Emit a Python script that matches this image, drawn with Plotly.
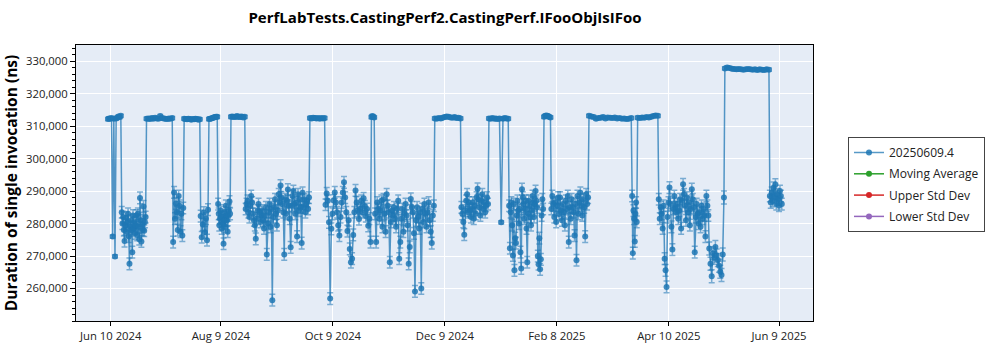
import pandas as pd
import plotly.graph_objects as go

chart_title = "PerfLabTests.CastingPerf2.CastingPerf.IFooObjIsIFoo"
y_title = "Duration of single invocation (ns)"
series_names = ["20250609.4", "Moving Average", "Upper Std Dev", "Lower Std Dev"]
series_colors = ["#1f77b4", "#2ca02c", "#d62728", "#9467bd"]

tick_dates = ["2024-06-10", "2024-08-09", "2024-10-09", "2024-12-09",
              "2025-02-08", "2025-04-10", "2025-06-09"]
tick_labels = ["Jun 10 2024", "Aug 9 2024", "Oct 9 2024", "Dec 9 2024",
               "Feb 8 2025", "Apr 10 2025", "Jun 9 2025"]
y_ticks = [260000, 270000, 280000, 290000, 300000, 310000, 320000, 330000]

# Run windows (start, end) and the durations for each window
seg_start = ["2024-06-08 12:00", "2024-06-16 00:00", "2024-06-29 12:00", "2024-07-14 00:00",
             "2024-07-20 00:00", "2024-07-29 00:00", "2024-08-02 12:00", "2024-08-07 12:00",
             "2024-08-14 12:00", "2024-08-22 12:00", "2024-09-26 12:00", "2024-10-05 00:00",
             "2024-10-30 00:00", "2024-11-01 00:00", "2024-12-03 12:00", "2024-12-18 00:00",
             "2025-01-02 00:00", "2025-01-13 00:00", "2025-02-01 00:00", "2025-02-05 00:00",
             "2025-02-25 12:00", "2025-03-21 00:00", "2025-03-24 00:00", "2025-04-04 12:00",
             "2025-05-02 00:00", "2025-05-10 12:00", "2025-06-04 00:00"]
seg_end = ["2024-06-15 12:00", "2024-06-29 00:00", "2024-07-13 12:00", "2024-07-19 12:00",
           "2024-07-28 12:00", "2024-08-02 00:00", "2024-08-07 00:00", "2024-08-14 00:00",
           "2024-08-22 00:00", "2024-09-26 00:00", "2024-10-04 12:00", "2024-10-29 12:00",
           "2024-10-31 12:00", "2024-12-03 00:00", "2024-12-17 12:00", "2025-01-01 12:00",
           "2025-01-12 12:00", "2025-01-31 12:00", "2025-02-04 12:00", "2025-02-25 00:00",
           "2025-03-20 12:00", "2025-03-23 12:00", "2025-04-04 00:00", "2025-05-01 12:00",
           "2025-05-10 00:00", "2025-06-03 12:00", "2025-06-10 12:00"]
seg_err = [500, 1800, 500, 1800, 500, 1800, 500, 1800, 500, 1800, 500, 1800, 500, 1800,
           500, 1800, 500, 1800, 500, 1800, 500, 1800, 500, 1800, 2000, 500, 1800]

seg_01 = [312200, 312400, 312300, 312500, 276000, 312300, 269900, 312400, 312600, 313000, 312800, 313200]
seg_02 = [283500, 280000, 282000, 278000, 274600, 279500, 281800, 277500, 280500, 283000, 276000, 267600,
          279000, 281000, 278000, 271200, 282500, 278500, 280200, 277000, 279500, 282500, 276500, 283000,
          279000, 275200, 287900, 281000, 274500, 279800, 278000, 285300, 277800, 280500, 282000]
seg_03 = [312300, 312400, 312200, 312500, 312300, 312600, 312400, 312300, 313100, 312500, 312400, 312300,
          312200, 312400, 312300, 312500]
seg_04 = [274300, 289600, 281500, 286200, 283500, 278000, 288500, 285500, 277500, 283000, 276300, 284800]
seg_05 = [312300, 312200, 312100, 312300, 312200, 312000, 312200, 312100, 312300, 312200, 312000, 312100]
seg_06 = [282300, 275800, 279700, 283400, 277300, 281500, 274900, 284300]
seg_07 = [312200, 312300, 312400, 312500, 312700, 312800, 312900, 312900]
seg_08 = [286000, 283000, 279500, 281500, 284000, 282000, 278500, 282000, 280000, 273800, 283500, 281000,
          279000, 285500, 282500, 281000, 277500, 282500, 284000, 286800, 283000]
seg_09 = [312900, 313000, 312800, 312900, 313100, 312800, 312900, 313000, 312700, 312900]
seg_10 = [284500, 286000, 287000, 283500, 282000, 285500, 288500, 286500, 283000, 281000,
          279500, 275300, 281500, 284000, 286000, 283500, 280500, 282500, 284000, 281000,
          278500, 282500, 285000, 270500, 280000, 283500, 286000, 279000, 284500, 256400,
          282000, 285000, 287500, 283000, 279500, 284000, 289000, 286500, 291700, 288000,
          286000, 283500, 270500, 287500, 283000, 287000, 290500, 285500, 281500, 272700,
          285500, 288500, 290000, 286000, 283000, 286500, 276000, 289000, 284000, 287500,
          285000, 274000, 289500, 285000, 287500, 283500, 286000, 287000, 284500, 288000]
seg_11 = [312500, 312400, 312600, 312500, 312400, 312500, 312300, 312500, 312400, 312500]
seg_12 = [285800, 289300, 287000, 280400, 256900, 278400, 283000, 287100, 289600, 286500, 283500, 279500,
          276300, 282000, 286500, 289600, 292700, 288000, 283500, 277700, 281000, 272200, 268100, 269200,
          276500, 283500, 290200, 286500, 284000, 281400, 284500, 287000, 283500, 287800, 285300, 282300,
          284500, 279300, 281500, 274300]
seg_13 = [312800, 313100, 312900, 312700]
seg_14 = [283000, 274300, 286500, 284500, 281500, 284000, 287000, 279000, 287500, 283000, 277500, 289000,
          285500, 283500, 268100, 280500, 284000, 282500, 285000, 281500, 279000, 284500, 287000, 269200,
          274300, 281500, 284500, 277500, 283000, 286000, 282500, 279500, 267600, 272800, 287600, 285000,
          283500, 277000, 259100, 281000, 285000, 282000, 278500, 283500, 260000, 284500, 280500, 286000,
          283000, 279000, 283500, 286500, 281000, 277500, 274000, 282500, 285500]
seg_15 = [312400, 312300, 312500, 312400, 312600, 312800, 313000, 312900, 312700, 312600, 312800, 312500,
          312600, 312400]
seg_16 = [285000, 283000, 280500, 276600, 284000, 287000, 289000, 283500, 286500, 284000, 282000, 284500,
          286500, 281500, 285500, 283000, 288000, 290700, 287500, 285000, 282500, 287000, 289000, 284500,
          286500, 283500, 285500, 288000, 286000]
seg_17 = [312400, 312300, 312500, 312300, 312400, 312200, 312400, 280400, 312300, 312500, 312400, 312300]
seg_18 = [285500, 272400, 283500, 286500, 279500, 270200, 286000, 265600, 275500, 274000, 282500, 287000,
          284000, 280000, 284500, 271200, 266200, 290600, 288000, 286000, 281500, 284500, 287000, 278500,
          268100, 283000, 287000, 285500, 282000, 279500, 284000, 288500, 286500, 282000, 286000, 290000,
          287000, 285000, 270000, 267500, 275500, 265900, 269000, 282500, 287500, 284500]
seg_19 = [312900, 313200, 313300, 313100, 312900, 312700]
seg_20 = [284500, 288500, 286000, 282000, 286500, 280500, 285500, 288000, 283000, 288000, 284000, 281000,
          286000, 283500, 279500, 287000, 284500, 288500, 274300, 285000, 281500, 287500, 285000, 283500,
          276300, 286000, 268700, 288500, 283000, 286500, 289500, 285500, 282500, 287500, 285000, 276000,
          289000, 286000, 288000]
seg_21 = [313200, 313000, 312800, 312300, 312500, 312600, 312800, 312400, 312700, 312600, 312500, 312700,
          312400, 312500, 312300, 312400, 312200, 312300, 312500]
seg_22 = [288500, 270900, 284000, 281500, 274500, 283000, 286500, 280500]
seg_23 = [312600, 312500, 312700, 312600, 312800, 312700, 312900, 313100, 313300, 313200]
seg_24 = [287500, 281500, 285000, 283000, 278500, 285500, 269200, 265600, 260500, 282000, 286500, 291100,
          286000, 279000, 272000, 284500, 288500, 285000, 283500, 286000, 281500, 284000, 287500, 278500,
          287000, 292100, 289000, 285500, 281000, 288000, 283500, 286500, 279500, 284500, 290600, 287500,
          285000, 271200, 282000, 286000, 283000, 280000, 283500, 279000, 285500, 281500, 284500, 282500,
          276000, 288500, 285500, 282500]
seg_25 = [272300, 267600, 263800, 270900, 269500, 272800, 270200, 268800, 267000, 265200, 264200, 270500, 288000]
seg_26 = [327800, 328100, 327900, 327700, 327600, 327500, 327600, 327500, 327400, 327500, 327600, 327500,
          327400, 327500, 327300, 327500, 327400, 327300, 327500, 327400]
seg_27 = [288500, 286500, 289500, 287000, 291000, 288000, 292000, 286000, 289000, 287500, 285500, 290000,
          288500, 286000]

seg_values = [seg_01, seg_02, seg_03, seg_04, seg_05, seg_06, seg_07, seg_08, seg_09, seg_10,
              seg_11, seg_12, seg_13, seg_14, seg_15, seg_16, seg_17, seg_18, seg_19, seg_20,
              seg_21, seg_22, seg_23, seg_24, seg_25, seg_26, seg_27]

xs, ys, errs = [], [], []
for s, e, vals, er in zip(seg_start, seg_end, seg_values, seg_err):
    times = pd.date_range(s, e, periods=len(vals))
    xs.extend(times)
    ys.extend(vals)
    errs.extend([er] * len(vals))

blue = series_colors[0]
fig = go.Figure()
fig.add_trace(go.Scatter(
    x=xs, y=ys, name=series_names[0], mode="lines+markers", legendgroup="g0",
    line=dict(color="rgba(31,119,180,0.75)", width=1.5),
    marker=dict(color=blue, size=6, opacity=0.85),
    error_y=dict(type="data", array=errs, visible=True,
                 color="rgba(31,119,180,0.55)", thickness=1.5, width=3),
))
for i, (name, col) in enumerate(zip(series_names[1:], series_colors[1:])):
    fig.add_trace(go.Scatter(x=[None], y=[None], name=name, mode="lines+markers",
                             legendgroup="g%d" % (i + 1),
                             line=dict(color=col, width=1.5), marker=dict(color=col, size=6)))

L, R, T, B = 76, 187, 45, 29
pw, ph = 1000 - L - R, 350 - T - B

def px(x):
    return (x - L) / pw

def py(y):
    return (350 - B - y) / ph

fig.add_shape(type="rect", xref="paper", yref="paper",
              x0=px(851), x1=px(978), y0=py(231), y1=py(140),
              fillcolor="#b4b4b4", line=dict(width=0), layer="above")

font_family = "Segoe UI, Open Sans, sans-serif"
fig.update_layout(
    width=1000, height=350,
    margin=dict(l=L, r=R, t=T, b=B, autoexpand=False),
    paper_bgcolor="white", plot_bgcolor="#e5ecf6",
    font=dict(family=font_family, size=12, color="#222"),
    title=dict(text="<b>" + chart_title + "</b>", x=0.445, xanchor="center",
               y=1 - 18 / 350, yanchor="middle", font=dict(size=15, color="black")),
    showlegend=True,
    legend=dict(x=px(848), y=py(137), xanchor="left", yanchor="top",
                bgcolor="white", bordercolor="#444", borderwidth=1,
                font=dict(size=12, color="#222"), tracegroupgap=2.3),
    xaxis=dict(type="date", range=["2024-05-22 02:00", "2025-06-27 12:00"],
               tickvals=tick_dates, ticktext=tick_labels, automargin=False,
               showgrid=True, gridcolor="white", gridwidth=1,
               showline=True, linecolor="black", linewidth=1, mirror=True,
               ticks="outside", ticklen=4, tickcolor="black",
               tickfont=dict(size=11.3, color="#222"), zeroline=False),
    yaxis=dict(range=[250000, 335000], tickvals=y_ticks, tickformat=",d", automargin=False,
               title=dict(text="<b>" + y_title + "</b>", font=dict(size=15.5, color="black"), standoff=10),
               showgrid=True, gridcolor="white", gridwidth=1,
               showline=True, linecolor="black", linewidth=1, mirror=True,
               ticks="outside", ticklen=5, tickcolor="black",
               minor=dict(ticks="outside", ticklen=3, dtick=2000, tick0=0, tickcolor="black", showgrid=False),
               tickfont=dict(size=11.3, color="#222"), zeroline=False),
)

fig.write_html("out.html")
